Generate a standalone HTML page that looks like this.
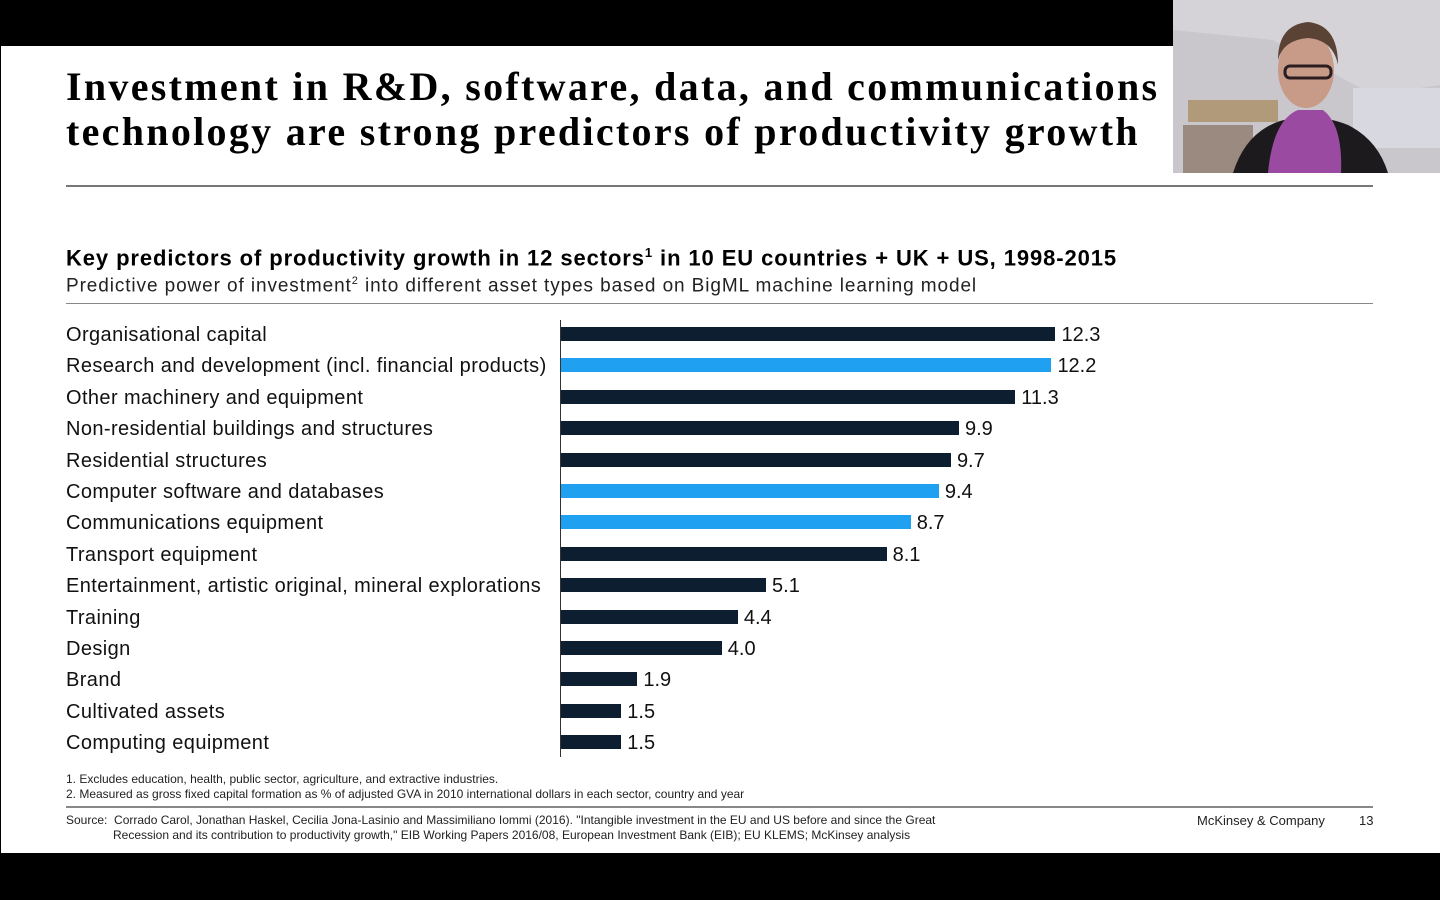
<!DOCTYPE html>
<html><head><meta charset="utf-8"><style>
body{margin:0;width:1440px;height:900px;background:#000;position:relative;overflow:hidden;font-family:"Liberation Sans",sans-serif;}
.slide{position:absolute;left:1px;top:46px;width:1439px;height:807px;background:#fff;}
.t{position:absolute;white-space:nowrap;color:#000;}
.bar{position:absolute;left:561px;height:14px;}
.d{background:#0c1e30}.b{background:#20a0f0}
.lab{position:absolute;left:66px;font-size:20px;color:#111;white-space:nowrap;letter-spacing:0.4px;}
.val{position:absolute;font-size:20px;color:#111;}
</style></head><body>
<div class="slide"></div>
<div class="t" style="left:66px;top:64px;font-family:'Liberation Serif',serif;font-weight:bold;font-size:40px;line-height:45px;letter-spacing:2.3px;">Investment in R&amp;D, software, data, and communications<br>technology are strong predictors of productivity growth</div>
<div style="position:absolute;left:66px;top:185px;width:1307px;height:2px;background:#777"></div>
<div class="t" style="left:66px;top:245px;font-size:22px;font-weight:bold;letter-spacing:0.9px;">Key predictors of productivity growth in 12 sectors<sup style="font-size:13px">1</sup> in 10 EU countries + UK + US, 1998-2015</div>
<div class="t" style="left:66px;top:275px;font-size:19px;color:#222;letter-spacing:0.9px;">Predictive power of investment<sup style="font-size:11px">2</sup> into different asset types based on BigML machine learning model</div>
<div style="position:absolute;left:66px;top:303px;width:1307px;height:1px;background:#888"></div>
<div style="position:absolute;left:560px;top:320px;width:1px;height:437px;background:#333"></div>
<div id="c"></div>
<div class="t" style="left:66px;top:772px;font-size:12px;color:#222">1. Excludes education, health, public sector, agriculture, and extractive industries.</div>
<div class="t" style="left:66px;top:787px;font-size:12px;color:#222">2. Measured as gross fixed capital formation as % of adjusted GVA in 2010 international dollars in each sector, country and year</div>
<div style="position:absolute;left:66px;top:806px;width:1307px;height:2px;background:#888"></div>
<div class="t" style="left:66px;top:813px;font-size:12px;color:#222">Source:&nbsp; Corrado Carol, Jonathan Haskel, Cecilia Jona-Lasinio and Massimiliano Iommi (2016). "Intangible investment in the EU and US before and since the Great</div>
<div class="t" style="left:113px;top:828px;font-size:12px;color:#222">Recession and its contribution to productivity growth," EIB Working Papers 2016/08, European Investment Bank (EIB); EU KLEMS; McKinsey analysis</div>
<div class="t" style="left:1197px;top:813px;font-size:13px;color:#222">McKinsey &amp; Company</div>
<div class="t" style="left:1359px;top:813px;font-size:13px;color:#222">13</div>
<svg style="position:absolute;left:1173px;top:0" width="267" height="173">
<rect width="267" height="173" fill="#c9c6cc"/>
<polygon points="0,0 267,0 267,85 200,95 100,40 0,30" fill="#d6d3d8"/>
<rect x="180" y="88" width="87" height="60" fill="#d8d8e0"/>
<rect x="10" y="125" width="70" height="48" fill="#9a8a80"/>
<rect x="15" y="100" width="90" height="22" fill="#b09a7a"/>
<path d="M60,173 Q75,125 120,118 Q150,115 175,125 Q205,140 215,173Z" fill="#1d1a1e"/>
<path d="M95,173 Q100,120 125,110 L150,110 Q170,125 168,173Z" fill="#9a4aa0"/>
<ellipse cx="133" cy="70" rx="28" ry="38" fill="#c89a88"/>
<path d="M105,60 Q105,25 135,22 Q165,25 165,65 Q160,40 135,38 Q110,40 105,60Z" fill="#5a4234"/>
<rect x="112" y="66" width="46" height="12" rx="5" fill="none" stroke="#2a1e20" stroke-width="3"/>
</svg>
<script>
var d=[["Organisational capital",12.3,"d"],["Research and development (incl. financial products)",12.2,"b"],["Other machinery and equipment",11.3,"d"],["Non-residential buildings and structures",9.9,"d"],["Residential structures",9.7,"d"],["Computer software and databases",9.4,"b"],["Communications equipment",8.7,"b"],["Transport equipment",8.1,"d"],["Entertainment, artistic original, mineral explorations",5.1,"d"],["Training",4.4,"d"],["Design",4.0,"d"],["Brand",1.9,"d"],["Cultivated assets",1.5,"d"],["Computing equipment",1.5,"d"]];
var h="";d.forEach(function(r,i){var y=334+i*31.4;var w=r[1]*40.2;
h+='<div class="lab" style="top:'+(y-10)+'px">'+r[0]+'</div><div class="bar '+r[2]+'" style="top:'+(y-7)+'px;width:'+w+'px"></div><div class="val" style="left:'+(561+w+6)+'px;top:'+(y-10)+'px">'+r[1].toFixed(1)+'</div>';});
document.getElementById("c").innerHTML=h;
</script>
</body></html>
